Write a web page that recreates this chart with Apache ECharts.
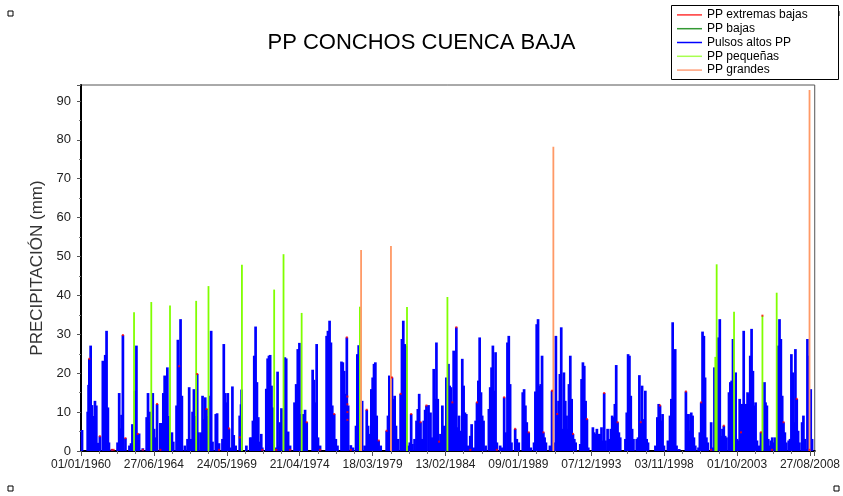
<!DOCTYPE html>
<html><head><meta charset="utf-8">
<script src="https://cdn.jsdelivr.net/npm/echarts@6/dist/echarts.min.js"></script>
<style>html,body{margin:0;padding:0;background:#fff}#c{width:843px;height:496px}</style>
</head><body><div id="c"></div>
<script>
// x values: years elapsed since 01/01/1960 (as positioned on the original axis)
const TICK_STEP = 4.906;
const xTickLabels = ['01/01/1960','27/06/1964','24/05/1969','21/04/1974','18/03/1979','13/02/1984','09/01/1989','07/12/1993','03/11/1998','01/10/2003','27/08/2008'];

const extremasBajas = [[0.56,23.7],[1.27,3.8],[2.08,0.3],[2.2,0.3],[2.82,29.8],[2.99,3.3],[3.82,4.4],[4.16,0.3],[5.12,12.1],[5.34,0.3],[6.61,21.8],[7.82,19.8],[8.45,10.8],[9.29,0.3],[9.96,5.8],[10.68,3.5],[12.2,0.3],[13.14,0.3],[14.07,0.3],[15.19,7.4],[16.09,0.3],[17.04,9.5],[17.89,29.2],[17.93,8],[17.93,10],[17.93,12],[17.93,14],[18.16,0.3],[19.23,10.6],[20.03,2.7],[20.57,5.2],[20.93,18.9],[21.51,14.7],[22.22,9.5],[22.85,7.4],[23.25,11.7],[24.1,2.4],[24.99,12.5],[25.26,31.8],[26.2,0.3],[26.65,12.5],[27.99,0.3],[28.48,13.8],[29.22,5.7],[30.13,4.8],[31.12,4.8],[31.7,15.5],[32.05,9.5],[33.11,4.4],[34.05,8.2],[35.21,14.9],[36.11,7.4],[37.67,7.4],[38.97,11.7],[40.71,15.3],[41.74,12.5],[42.41,0.3],[43.26,6.5],[44.42,4.8],[45.76,4.8],[45.86,34.8],[46.5,0.3],[47.28,7.4],[48.17,13.4],[49.03,0.3]];

const bajas = [];

const pulsosAltos = [[0.07,5.4],[0.45,10.1],[0.51,17],[0.56,23.7],[0.65,27.1],[0.74,11.8],[0.8,9],[0.85,5.4],[0.94,12.9],[1.03,11.7],[1.12,2.1],[1.27,3.8],[1.47,23.2],[1.56,11.7],[1.63,24.7],[1.72,30.9],[1.81,11.2],[1.88,2.2],[2.08,0.5],[2.46,2.2],[2.57,14.9],[2.66,5.8],[2.73,9.3],[2.82,29.8],[2.99,3.3],[3.26,1.4],[3.37,2],[3.46,6.9],[3.64,15.5],[3.73,27.1],[3.82,4.4],[3.91,4.5],[4.16,0.7],[4.42,8.7],[4.51,14.9],[4.58,7.4],[4.67,10.1],[4.83,14.9],[4.92,5.7],[5.03,3.5],[5.12,12.1],[5.34,7.2],[5.43,7.2],[5.54,14.9],[5.63,19.4],[5.72,17.8],[5.81,21.5],[5.9,9],[6.12,4.8],[6.21,2.4],[6.43,11.7],[6.52,28.6],[6.61,21.8],[6.7,33.9],[6.79,14.2],[6.99,1.4],[7.17,3.1],[7.28,16.4],[7.4,3.1],[7.51,10.1],[7.6,15.9],[7.69,9],[7.82,19.8],[7.91,4.8],[8.09,4.8],[8.18,14.2],[8.27,8.2],[8.36,13.8],[8.45,10.8],[8.53,9],[8.67,14.2],[8.76,30.9],[8.85,2.4],[9.07,9.5],[9.16,9.7],[9.29,2],[9.52,3.1],[9.61,27.5],[9.7,14.9],[9.79,12.5],[9.88,14.9],[9.96,5.8],[10.05,0.9],[10.19,16.6],[10.28,4.1],[10.41,1.4],[10.68,9.1],[10.77,12],[10.81,15.8],[11.13,1.4],[11.39,3.5],[11.48,3.5],[11.57,7.8],[11.66,24.5],[11.75,32],[11.84,17.7],[11.93,8.7],[12.04,2.4],[12.13,4.4],[12.2,0.9],[12.47,16],[12.56,23.8],[12.65,24.5],[12.73,24.7],[12.82,16.8],[12.91,11.2],[13.14,0.9],[13.23,20.4],[13.32,1.4],[13.4,7.4],[13.49,11],[13.72,24.1],[13.81,23.8],[13.94,5],[14.07,1.4],[14.37,12.5],[14.48,17.2],[14.59,26.2],[14.7,27.8],[14.79,9.5],[14.97,9.5],[15.08,10.6],[15.19,7.4],[15.59,20.9],[15.68,18.3],[15.77,12.5],[15.86,27.5],[15.95,3.5],[16.09,1.4],[16.53,29.6],[16.62,30.9],[16.73,33.5],[16.82,27.9],[16.91,11.7],[17.04,9.5],[17.15,3.1],[17.26,1.4],[17.53,23],[17.62,22.8],[17.71,20.6],[17.8,14.7],[17.89,29.2],[17.98,11.7],[18.16,1.5],[18.3,0.9],[18.51,6.5],[18.6,24.9],[18.69,27.2],[18.92,12.9],[19.09,1.4],[19.23,10.6],[19.32,6.5],[19.45,4.4],[19.54,15.9],[19.63,18.9],[19.72,22.4],[19.81,22.8],[19.9,9.1],[20.03,2.7],[20.17,1.4],[20.57,5.2],[20.66,9.1],[20.75,19.4],[20.93,18.9],[21.02,13.4],[21.11,14.2],[21.2,6.5],[21.33,3.1],[21.51,14.7],[21.6,28.8],[21.69,33.5],[21.78,27.5],[21.87,27.1],[22.0,1.4],[22.13,2.2],[22.22,9.5],[22.31,1.8],[22.45,3.1],[22.58,7.8],[22.67,10.8],[22.76,14.7],[22.85,7.4],[22.94,3.1],[23.07,7.8],[23.16,10.6],[23.25,11.7],[23.39,11.8],[23.52,9.9],[23.61,3.5],[23.74,21.1],[23.83,13.4],[23.92,27.9],[24.01,13.4],[24.1,2.4],[24.19,4.4],[24.32,11.7],[24.41,6.5],[24.59,18.9],[24.73,22.4],[24.81,16.8],[24.9,16.4],[24.99,12.5],[25.08,25.8],[25.17,15.5],[25.26,31.8],[25.35,6.1],[25.44,9.1],[25.53,5.2],[25.66,23.7],[25.75,16.8],[25.84,9.9],[25.93,9.5],[26.07,1.4],[26.2,3.9],[26.29,6.9],[26.43,0.9],[26.56,7.8],[26.65,12.5],[26.74,18.1],[26.83,29.2],[26.92,15.1],[27.0,9.1],[27.09,7.8],[27.23,1.4],[27.45,10.8],[27.54,16.4],[27.63,21.5],[27.72,27.1],[27.81,15.5],[27.9,25.4],[27.99,2.2],[28.21,1.4],[28.34,0.9],[28.48,13.8],[28.57,4.8],[28.7,27.9],[28.79,29.6],[28.88,17.2],[28.97,2.2],[29.22,5.7],[29.33,3.1],[29.46,2.2],[29.73,15.1],[29.82,15.9],[29.91,11.7],[30.0,7.4],[30.13,4.8],[30.27,0.9],[30.49,2.2],[30.58,15.3],[30.67,32.6],[30.76,33.9],[30.85,16.8],[30.94,17.2],[31.03,24.5],[31.12,4.8],[31.2,3.5],[31.29,2.2],[31.56,1.4],[31.7,15.5],[31.87,2.2],[31.96,29.6],[32.05,9.5],[32.14,12.9],[32.23,19.8],[32.32,31.8],[32.41,5.7],[32.5,20.2],[32.59,12.9],[32.68,9.1],[32.79,5.7],[32.84,17.2],[32.93,24.5],[33.02,13.4],[33.11,4.4],[33.2,3.1],[33.29,2.2],[33.6,1.8],[33.69,18.5],[33.78,22.8],[33.87,21.9],[33.96,12.9],[34.05,8.2],[34.14,0.9],[34.45,6.1],[34.54,4.8],[34.63,4.4],[34.72,5.7],[34.81,4.4],[34.94,4.4],[35.03,6.1],[35.12,2.7],[35.21,14.9],[35.3,2.7],[35.44,5.7],[35.53,3.1],[35.66,5.7],[35.75,9.1],[35.84,8.7],[35.93,12.1],[36.02,22.1],[36.11,7.4],[36.2,4.8],[36.29,3.5],[36.64,3.1],[36.73,9.9],[36.82,24.9],[36.91,24.5],[37.0,14.2],[37.09,5.7],[37.18,3.1],[37.4,3.1],[37.49,3.5],[37.58,19.5],[37.67,7.4],[37.76,16.8],[37.89,8.2],[37.98,15.5],[38.07,3.1],[38.16,2.2],[38.66,1.4],[38.79,8.7],[38.88,12.1],[38.97,11.7],[39.06,7.8],[39.14,9.5],[39.23,1.4],[39.5,2.7],[39.64,9.1],[39.73,13.4],[39.82,33.1],[39.9,13.4],[39.99,26.2],[40.08,1.4],[40.26,0.5],[40.71,15.3],[40.8,9.5],[40.89,9.5],[40.98,5.2],[41.07,9.9],[41.16,9.1],[41.25,3.5],[41.34,1.4],[41.56,0.9],[41.65,4.8],[41.74,12.5],[41.83,30.7],[41.92,29.6],[42.0,18.9],[42.09,3.5],[42.18,2.2],[42.41,7.4],[42.54,0.9],[42.63,21.5],[42.9,29.2],[42.99,33.9],[43.08,3.9],[43.17,5.7],[43.26,6.5],[43.35,3.9],[43.44,3.5],[43.61,15.1],[43.7,17.7],[43.79,18.1],[43.88,28.8],[44.06,20.2],[44.15,3.1],[44.24,2.7],[44.33,13.4],[44.42,4.8],[44.51,12.1],[44.6,30.9],[44.69,11.7],[44.78,12.1],[44.86,15.1],[44.95,14.7],[45.04,24.5],[45.13,31.4],[45.22,20.6],[45.31,11.7],[45.4,12.5],[45.49,2.7],[45.62,1.4],[45.76,4.8],[46.0,17.7],[46.07,12.5],[46.16,11.7],[46.25,3.1],[46.34,1.4],[46.43,2.7],[46.52,3.5],[46.61,2.2],[46.7,3.5],[46.92,27.1],[47.01,33.9],[47.1,28.8],[47.19,14.2],[47.28,7.4],[47.37,4.8],[47.46,2.2],[47.63,2.7],[47.72,3.1],[47.81,24.9],[47.9,20.2],[47.99,7.4],[48.08,26.2],[48.17,13.4],[48.26,5.2],[48.35,2.2],[48.53,7.4],[48.62,9.1],[48.71,3.1],[48.8,0.5],[48.89,28.8],[48.97,24.5],[49.11,15.9],[49.2,3.1]];

const pequenas = [[3.57,35.7],[4.73,38.3],[5.99,37.4],[7.75,38.6],[8.58,42.4],[10.83,47.9],[13.0,41.5],[13.63,50.6],[14.85,35.5],[18.77,37.1],[21.94,37],[24.66,39.6],[42.69,24.2],[42.78,48],[43.95,35.8],[45.86,34.8],[46.82,40.7]];

const grandes = [[18.85,51.7],[20.86,52.7],[31.79,78.2],[49.03,92.8]];

const FONT = 'Liberation Sans, Arial, sans-serif';
const X_MAX = 49.38;
const chart = echarts.init(document.getElementById('c'), null, {renderer: 'canvas'});

function sq(x, y) {
  return {type: 'rect', shape: {x: x, y: y, width: 5, height: 5}, style: {fill: '#fff', stroke: '#000', lineWidth: 1}};
}

chart.setOption({
  animation: false,
  backgroundColor: '#fff',
  title: {
    text: 'PP CONCHOS CUENCA BAJA', left: 'center', top: 27,
    textStyle: {fontFamily: FONT, fontSize: 22, fontWeight: 'normal', color: '#000'}
  },
  graphic: [
    sq(8, 11), sq(834, 11), sq(8, 486), sq(834, 486),
    {type: 'rect', shape: {x: 671.5, y: 5.5, width: 167, height: 74}, style: {fill: '#fff', stroke: '#000', lineWidth: 1}, z: 0}
  ],
  legend: {
    orient: 'vertical', left: 677, top: 8, padding: 0, itemGap: 0,
    icon: 'rect', itemWidth: 25, itemHeight: 1.5,
    textStyle: {fontFamily: FONT, fontSize: 12, color: '#000', lineHeight: 13.8},
    z: 10,
    data: [
      {name: 'PP extremas bajas', itemStyle: {color: '#ff0000'}},
      {name: 'PP bajas', itemStyle: {color: '#008000'}},
      {name: 'Pulsos altos PP', itemStyle: {color: '#0000ff'}},
      {name: 'PP pequeñas', itemStyle: {color: '#a8ff50'}},
      {name: 'PP grandes', itemStyle: {color: '#ffa07a'}}
    ]
  },
  grid: {left: 81, right: 26, top: 85, bottom: 45, show: true, borderColor: '#555', borderWidth: 1, backgroundColor: 'transparent'},
  xAxis: [{
    type: 'value', min: 0, max: X_MAX, interval: TICK_STEP,
    axisLine: {show: true, onZero: false, lineStyle: {color: '#000', width: 2}},
    axisTick: {show: true, length: 5, lineStyle: {color: '#555'}},
    minorTick: {show: true, splitNumber: 4, length: 3, lineStyle: {color: '#777'}},
    splitLine: {show: false},
    axisLabel: {
      margin: 8, fontFamily: FONT, fontSize: 12, color: '#222', showMaxLabel: true,
      formatter: function (v) {
        const i = Math.round(v / TICK_STEP);
        if (Math.abs(v - i * TICK_STEP) > 0.01) return '';
        return xTickLabels[i] || '';
      }
    }
  }, {
    type: 'value', min: 0, max: X_MAX, interval: TICK_STEP, show: false, position: 'bottom'
  }],
  yAxis: {
    type: 'value', min: 0, max: 94.1, interval: 10,
    name: 'PRECIPITACIÓN (mm)', nameLocation: 'middle', nameGap: 31,
    nameTextStyle: {fontFamily: FONT, fontSize: 17, color: '#333'},
    axisLine: {show: true, lineStyle: {color: '#000', width: 2}},
    axisTick: {show: true, length: 4, lineStyle: {color: '#555'}},
    minorTick: {show: true, splitNumber: 2, length: 2, lineStyle: {color: '#777'}},
    splitLine: {show: false},
    axisLabel: {
      margin: 10, fontFamily: FONT, fontSize: 13, color: '#222',
      formatter: function (v) { return (Math.abs(v % 10) < 1e-6) ? String(Math.round(v)) : ''; }
    }
  },
  series: [
    {name: 'PP extremas bajas', type: 'scatter', data: extremasBajas, symbol: 'rect', symbolSize: 2, itemStyle: {color: '#ff0000'}, z: 6, silent: true},
    {name: 'PP bajas', type: 'scatter', data: bajas, symbol: 'rect', symbolSize: 2, itemStyle: {color: '#008000'}, z: 5, silent: true},
    {name: 'Pulsos altos PP', type: 'bar', xAxisIndex: 0, data: pulsosAltos, barWidth: 2.7, itemStyle: {color: '#0000ff'}, z: 2, silent: true},
    {name: 'PP pequeñas', type: 'bar', xAxisIndex: 1, data: pequenas, barWidth: 1.8, barGap: '-100%', itemStyle: {color: '#80ff00'}, z: 3, silent: true},
    {name: 'PP grandes', type: 'bar', xAxisIndex: 1, data: grandes, barWidth: 1.8, barGap: '-100%', itemStyle: {color: '#ff9966'}, z: 4, silent: true}
  ]
});
</script>
</body></html>
